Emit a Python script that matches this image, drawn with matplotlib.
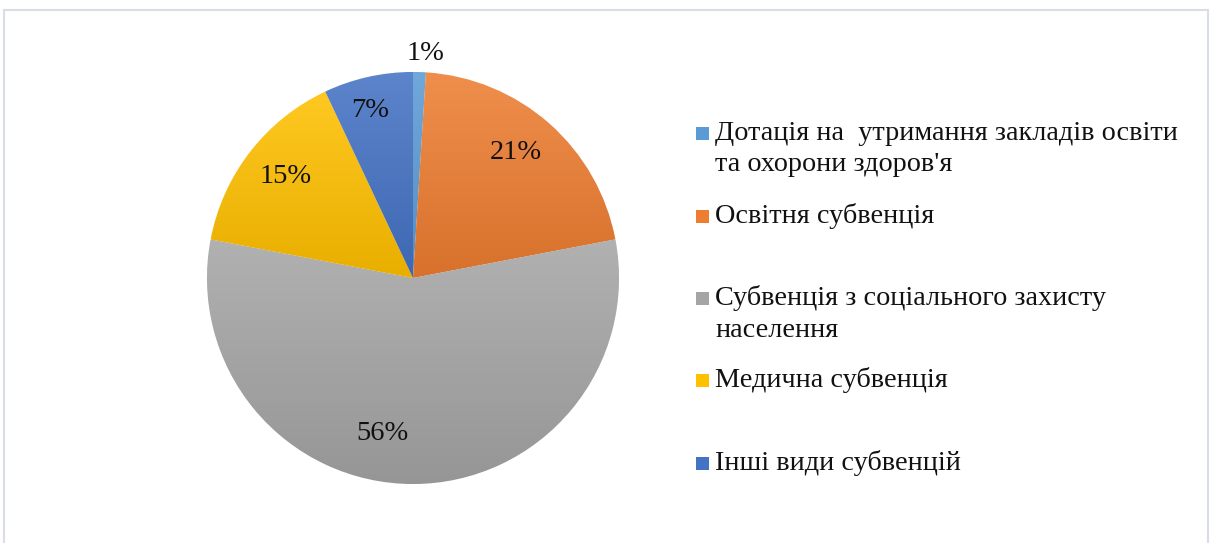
import numpy as np
import matplotlib.pyplot as plt
from matplotlib.patches import Rectangle
from matplotlib.colors import to_rgb

plt.rcParams['font.family'] = ['Liberation Serif', 'DejaVu Serif']

labels = ["Дотація на  утримання закладів освіти\nта охорони здоров'я",
          "Освітня субвенція",
          "Субвенція з соціального захисту\nнаселення",
          "Медична субвенція",
          "Інші види субвенцій"]
shares = [1, 21, 56, 15, 7]
colors = ['#5b9bd5', '#ed7d31', '#a5a5a5', '#ffc000', '#4472c4']
# label placement: radius (fraction of pie radius) and angle offset in degrees
lab_r = [1.09, 0.79, 0.77, 0.79, 0.84]
lab_da = [-1.5, 2.0, -11.0, -0.8, 1.6]
# legend entry vertical centres in pixels from top
leg_y = [149, 216, 314, 380, 463]

W, H = 1211, 543
fig = plt.figure(figsize=(W / 100, H / 100), dpi=100)

# chart frame
fig.add_artist(Rectangle((3.5 / W, -0.05), 1204 / W, 1.05 - 10 / H, transform=fig.transFigure,
                         fill=False, edgecolor='#d9dee6', linewidth=1.5))

cx, cy, R = 413, 278, 206
ax = fig.add_axes([(cx - R) / W, (H - cy - R) / H, 2 * R / W, 2 * R / H])
wedges, _ = ax.pie(shares, colors=colors, startangle=90, counterclock=False, radius=1,
                   wedgeprops=dict(edgecolor='white', linewidth=0.6))

# vertical light-to-dark gradient in each slice, like the office chart style
for w, c in zip(wedges, colors):
    verts = w.get_patch_transform().transform(w.get_path().vertices)
    y0, y1 = verts[:, 1].min(), verts[:, 1].max()
    x0, x1 = verts[:, 0].min(), verts[:, 0].max()
    base = np.array(to_rgb(c))
    top = base + (1 - base) * 0.13
    bot = base * 0.91
    t = np.linspace(0, 1, 64)[:, None]
    grad = (top[None, :] * (1 - t) + bot[None, :] * t)[:, None, :]
    im = ax.imshow(grad, extent=[x0, x1, y0, y1], origin='upper', aspect='auto',
                   interpolation='bilinear', zorder=1.5)
    im.set_clip_path(w)
    w.set_zorder(1)

ax.set_xlim(-1, 1)
ax.set_ylim(-1, 1)
ax.axis('off')

for w, s, r, da in zip(wedges, shares, lab_r, lab_da):
    mid = np.deg2rad((w.theta1 + w.theta2) / 2 + da)
    ax.text(r * np.cos(mid), r * np.sin(mid), f'{s}%', ha='center', va='center',
            fontsize=20.5, color='#111111', zorder=3)

# legend
for lab, c, y in zip(labels, colors, leg_y):
    first = y if '\n' not in lab else y - 16
    fig.add_artist(Rectangle((696 / W, (H - first - 7) / H), 13 / W, 13 / H,
                             transform=fig.transFigure, facecolor=c, edgecolor='none'))
    fig.text(715 / W, (H - y) / H, lab, ha='left', va='center', fontsize=20.3,
             linespacing=1.33, color='#111111')

fig.savefig('out.png', dpi=100, facecolor='white')
